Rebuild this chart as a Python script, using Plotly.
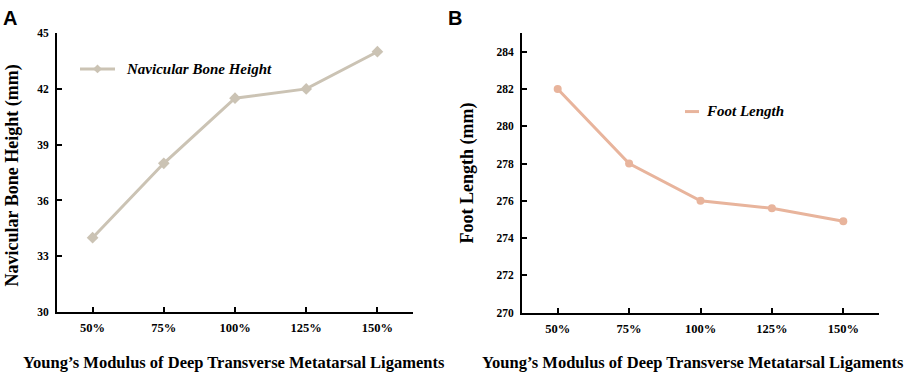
import plotly.graph_objects as go

categories = ["50%", "75%", "100%", "125%", "150%"]
navicular_height = [34.0, 38.0, 41.5, 42.0, 44.0]
foot_length = [282.0, 278.0, 276.0, 275.6, 274.9]
yticks_a = [30, 33, 36, 39, 42, 45]
yticks_b = [270, 272, 274, 276, 278, 280, 282, 284]

W, H = 906, 381
def px(x):
    return x / W
def py(y):
    return 1 - y / H

col_a = "#cbc3b4"
col_b = "#e8b49c"
serif = "Liberation Serif"

fig = go.Figure()
fig.add_trace(go.Scatter(x=list(range(5)), y=navicular_height, mode="lines+markers",
                         line=dict(color=col_a, width=3),
                         marker=dict(symbol="diamond", size=9, color=col_a),
                         xaxis="x", yaxis="y", showlegend=False))
fig.add_trace(go.Scatter(x=list(range(5)), y=foot_length, mode="lines+markers",
                         line=dict(color=col_b, width=3),
                         marker=dict(symbol="circle", size=8, color=col_b),
                         xaxis="x2", yaxis="y2", showlegend=False))

xtickfont = dict(family=serif, size=12.5, color="black", weight="bold")
ytickfont = dict(family=serif, size=11.5, color="black", weight="bold")
common_x = dict(tickmode="array", tickvals=list(range(5)), ticktext=categories,
                range=[-0.5, 4.5], showline=True, linecolor="black", linewidth=2,
                ticks="inside", ticklen=5, tickwidth=2, tickcolor="black",
                showgrid=False, zeroline=False, tickfont=xtickfont, ticklabelstandoff=3)
common_y = dict(showline=True, linecolor="black", linewidth=2,
                ticks="inside", ticklen=5, tickwidth=2, tickcolor="black",
                showgrid=False, zeroline=False, tickfont=ytickfont, ticklabelstandoff=4)

fig.update_layout(
    width=W, height=H, margin=dict(l=0, r=0, t=0, b=0),
    paper_bgcolor="white", plot_bgcolor="white",
    xaxis=dict(domain=[px(57), px(413)], anchor="y", **common_x),
    yaxis=dict(domain=[py(316), py(28)], anchor="x", range=[30, 45],
               tickvals=yticks_a, **common_y),
    xaxis2=dict(domain=[px(522), px(879)], anchor="y2", **common_x),
    yaxis2=dict(domain=[py(316.5), py(28)], anchor="x2", range=[270, 285],
                tickvals=yticks_b, **common_y),
)

xtitle_font = dict(family=serif, size=16.5, color="black", weight="bold")
ytitle_font = dict(family=serif, size=18, color="black", weight="bold")
legend_font = dict(family=serif, size=15, color="black", weight="bold", style="italic")
panel_font = dict(family="Liberation Sans", size=20, color="black", weight="bold")
xtitle = "Young\u2019s Modulus of Deep Transverse Metatarsal Ligaments"
annos = [
    dict(x=px(234), y=py(368), text=xtitle, font=xtitle_font),
    dict(x=px(693), y=py(368), text=xtitle, font=xtitle_font),
    dict(x=px(12), y=py(175), text="Navicular Bone Height (mm)", textangle=-90, font=ytitle_font),
    dict(x=px(468), y=py(173), text="Foot Length (mm)", textangle=-90, font=ytitle_font),
    dict(x=px(124), y=py(65), text="Navicular Bone Height", xanchor="left", font=legend_font),
    dict(x=px(704), y=py(108), text="Foot Length", xanchor="left", font=legend_font),
    dict(x=px(1), y=py(12), text="A", xanchor="left", font=panel_font),
    dict(x=px(446), y=py(12), text="B", xanchor="left", font=panel_font),
]
for a in annos:
    a.setdefault("xanchor", "center")
    fig.add_annotation(xref="paper", yref="paper", showarrow=False, yanchor="middle", **a)

# legend keys
fig.add_shape(type="line", xref="paper", yref="paper", x0=px(80), x1=px(115), y0=py(65), y1=py(65),
              line=dict(color=col_a, width=3))
cx, cy, r = 97.5, 65, 4.5
fig.add_shape(type="path", xref="paper", yref="paper",
              path=f"M {px(cx)} {py(cy-r)} L {px(cx+r)} {py(cy)} L {px(cx)} {py(cy+r)} L {px(cx-r)} {py(cy)} Z",
              fillcolor=col_a, line=dict(color=col_a, width=0))
fig.add_shape(type="line", xref="paper", yref="paper", x0=px(685), x1=px(699), y0=py(109), y1=py(109),
              line=dict(color=col_b, width=3))

fig.write_html("out.html", config={"displayModeBar": False},
               post_script="document.body.style.margin='0';document.body.style.overflow='hidden';")
